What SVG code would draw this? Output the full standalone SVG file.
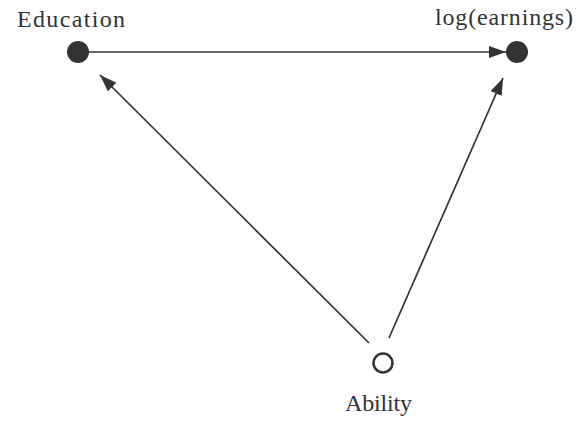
<svg xmlns="http://www.w3.org/2000/svg" width="576" height="422" viewBox="0 0 576 422">
  <style>
    .label { font-family: "Liberation Serif", "DejaVu Serif", serif; font-size: 24px; fill: #333; }
    .edge { stroke: #333; stroke-width: 1.7; fill: none; }
    .filled { fill: #333; }
    .open { fill: #fff; stroke: #333; stroke-width: 2.5; }
  </style>
  <defs>
    <marker id="arrow" viewBox="0 0 17 12" refX="17" refY="6" markerWidth="17" markerHeight="12" markerUnits="userSpaceOnUse" orient="auto">
      <path d="M0,0 L17,6 L0,12 Z" fill="#333"/>
    </marker>
  </defs>
  <rect width="576" height="422" fill="#fff"/>

  <g id="connectors">
    <line class="edge" x1="89" y1="52" x2="506" y2="52" marker-end="url(#arrow)"/>
    <line class="edge" x1="369" y1="343" x2="100" y2="75" marker-end="url(#arrow)"/>
    <line class="edge" x1="389" y1="338" x2="503" y2="78" marker-end="url(#arrow)"/>
  </g>

  <g id="education">
    <circle class="filled" cx="78" cy="52" r="11"/>
    <text class="label" x="17" y="27" textLength="108" lengthAdjust="spacing">Education</text>
  </g>

  <g id="earnings">
    <circle class="filled" cx="517" cy="52" r="11"/>
    <text class="label" x="435" y="25" textLength="138" lengthAdjust="spacing">log(earnings)</text>
  </g>

  <g id="ability">
    <circle class="open" cx="383" cy="363" r="9.5"/>
    <text class="label" x="345" y="411" textLength="67" lengthAdjust="spacing">Ability</text>
  </g>
</svg>
